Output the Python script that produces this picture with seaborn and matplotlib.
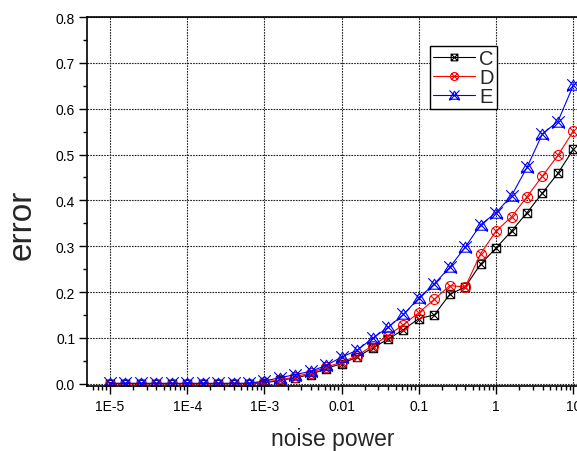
import numpy as np
import pandas as pd
import matplotlib
matplotlib.use("Agg")
import matplotlib.pyplot as plt
from matplotlib.path import Path
from matplotlib.lines import Line2D
from matplotlib.ticker import FixedLocator, NullFormatter, LogLocator
import seaborn as sns

# noise power levels (5 points per decade)
noise_power = [1.000e-5, 1.585e-5, 2.512e-5, 3.981e-5, 6.310e-5,
               1.000e-4, 1.585e-4, 2.512e-4, 3.981e-4, 6.310e-4,
               1.000e-3, 1.585e-3, 2.512e-3, 3.981e-3, 6.310e-3,
               1.000e-2, 1.585e-2, 2.512e-2, 3.981e-2, 6.310e-2,
               1.000e-1, 1.585e-1, 2.512e-1, 3.981e-1, 6.310e-1,
               1.000, 1.585, 2.512, 3.981, 6.310, 10.0]

err_C = [0.000, 0.000, 0.000, 0.000, 0.000, 0.000, 0.000, 0.000, 0.000, 0.000,
         0.002, 0.007, 0.013, 0.020, 0.033, 0.044, 0.058, 0.078, 0.097, 0.118,
         0.142, 0.150, 0.195, 0.211, 0.261, 0.296, 0.333, 0.373, 0.416, 0.459, 0.511]
err_D = [0.000, 0.000, 0.000, 0.000, 0.000, 0.000, 0.000, 0.000, 0.000, 0.000,
         0.004, 0.008, 0.015, 0.024, 0.036, 0.047, 0.061, 0.083, 0.105, 0.129,
         0.155, 0.184, 0.214, 0.211, 0.284, 0.333, 0.364, 0.408, 0.453, 0.498, 0.551]
err_E = [0.001, 0.001, 0.001, 0.001, 0.001, 0.001, 0.001, 0.001, 0.001, 0.001,
         0.006, 0.013, 0.020, 0.027, 0.040, 0.058, 0.073, 0.099, 0.123, 0.151,
         0.187, 0.218, 0.254, 0.298, 0.347, 0.373, 0.410, 0.472, 0.545, 0.572, 0.651]

series_names = ["C", "D", "E"]
series_colors = ["black", "red", "blue"]

x_tick_values = [1e-5, 1e-4, 1e-3, 1e-2, 1e-1, 1, 10]
x_tick_labels = ["1E-5", "1E-4", "1E-3", "0.01", "0.1", "1", "10"]
y_tick_values = [0.0, 0.1, 0.2, 0.3, 0.4, 0.5, 0.6, 0.7, 0.8]

df = pd.DataFrame({
    "noise power": noise_power * 3,
    "error": err_C + err_D + err_E,
    "series": [s for s in series_names for _ in noise_power],
})

# --- composite marker shapes ---
M, L, C = Path.MOVETO, Path.LINETO, Path.CLOSEPOLY
box_x = Path([(-1, -1), (1, -1), (1, 1), (-1, 1), (-1, -1),
              (-1, -1), (1, 1), (-1, 1), (1, -1)],
             [M, L, L, L, C, M, L, M, L])
d = 0.7071
circ = Path.unit_circle()
cross = Path([(-d, -d), (d, d), (-d, d), (d, -d)], [M, L, M, L])
circle_x = Path.make_compound_path(circ, cross)
tri_x = Path([(0, 0.85), (-1, -0.75), (1, -0.75), (0, 0.85),
              (-1, -1), (1, 1), (-1, 1), (1, -1)],
             [M, L, L, C, M, L, M, L])
markers = {"C": box_x, "D": circle_x, "E": tri_x}
msizes = {"C": 6.0, "D": 7.2, "E": 9.0}

sns.set_style("ticks")
plt.rcParams["font.family"] = ["Liberation Sans", "DejaVu Sans"]

W, H = 577, 452
fig = plt.figure(figsize=(W / 100, H / 100), dpi=100)
ax_left, ax_right, ax_top, ax_bottom = 87, 579, 18, 387
ax = fig.add_axes([ax_left / W, 1 - ax_bottom / H,
                   (ax_right - ax_left) / W, (ax_bottom - ax_top) / H])

for name, col in zip(series_names, series_colors):
    sub = df[df["series"] == name]
    sns.lineplot(data=sub, x="noise power", y="error", ax=ax,
                 color=col, lw=0.8, marker=markers[name],
                 markersize=msizes[name], markerfacecolor="none",
                 markeredgecolor=col, markeredgewidth=0.8,
                 estimator=None, sort=False, label=name, legend=False)

ax.set_xscale("log")
ax.set_xlim(10 ** -5.2975, 10 ** 1.0737)
ax.set_ylim(-0.005, 0.8)

ax.xaxis.set_major_locator(FixedLocator(x_tick_values))
ax.set_xticklabels(x_tick_labels)
ax.xaxis.set_minor_locator(LogLocator(base=10, subs=np.arange(2, 10), numticks=20))
ax.xaxis.set_minor_formatter(NullFormatter())
ax.set_yticks(y_tick_values)
ax.set_yticklabels([f"{v:.1f}" for v in y_tick_values])
ax.set_yticks(np.arange(0.05, 0.8, 0.1), minor=True)

ax.tick_params(axis="both", which="major", direction="out", length=5.5,
               width=1.0, labelsize=10, colors="black", pad=3)
ax.tick_params(axis="both", which="minor", direction="out", length=3,
               width=1.0, colors="black")
ax.tick_params(axis="x", which="major", pad=4)

ax.grid(True, which="major", color="#222222", lw=0.8, linestyle=(0, (1.5, 1)))
ax.set_axisbelow(True)
for side in ["left", "bottom", "top", "right"]:
    ax.spines[side].set_visible(True)
    ax.spines[side].set_color("black")
    ax.spines[side].set_linewidth(1.2)

ax.set_xlabel("noise power", fontsize=16.5, labelpad=10)
ax.set_ylabel("")
fig.text(22 / W, 1 - 225 / H, "error", rotation=90, ha="center",
         va="center", fontsize=24)

handles = [Line2D([0], [0], color=c, lw=0.8, marker=markers[n],
                  markersize=msizes[n] * 0.8, markerfacecolor="none",
                  markeredgecolor=c, markeredgewidth=0.8)
           for n, c in zip(series_names, series_colors)]
leg = ax.legend(handles, series_names, loc="upper left",
                bbox_to_anchor=(430 / W, 1 - 47 / H),
                bbox_transform=fig.transFigure, fontsize=14.5,
                frameon=True, fancybox=False, shadow=False,
                borderpad=0.15, labelspacing=0.0, handlelength=2.1,
                handletextpad=0.2, borderaxespad=0)
leg.get_frame().set_edgecolor("black")
leg.get_frame().set_linewidth(1.0)
leg.get_frame().set_facecolor("white")
leg.get_frame().set_alpha(1)

fig.savefig("out.png", dpi=100)
